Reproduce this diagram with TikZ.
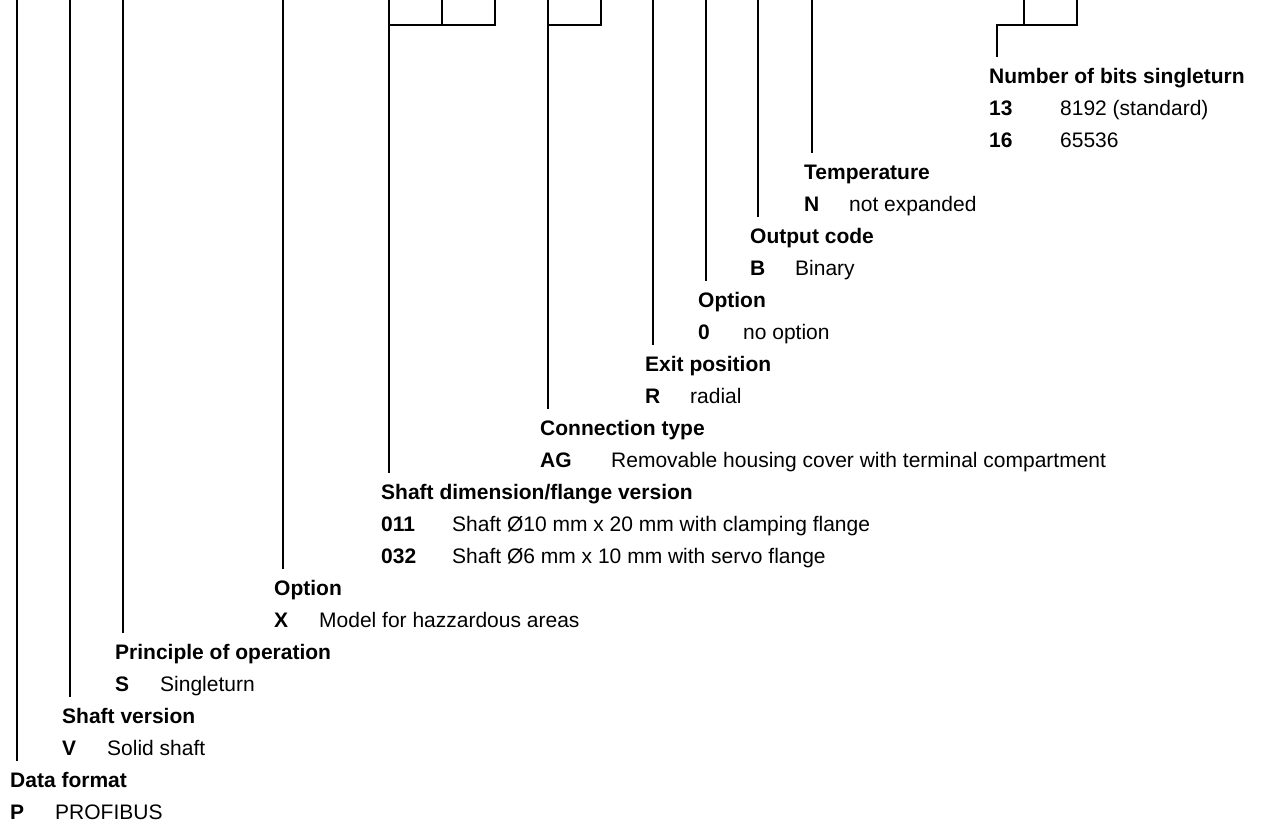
\documentclass[tikz,border=0pt]{standalone}
\usepackage{fontspec}
\setmainfont{Liberation Sans}
\begin{document}
\begin{tikzpicture}[x=1pt,y=-1pt,
  lbl/.style={anchor=base west,inner sep=0pt,text height=15pt,text depth=4pt,font={\fontsize{21}{25}\selectfont}},
  hdr/.style={lbl,font={\fontsize{21}{25}\selectfont\bfseries}},
  keyt/.style={lbl,font={\fontsize{21}{25}\selectfont\bfseries}},
  valt/.style={lbl},
  conn/.style={line width=2pt,shorten >=11pt},
  link/.style={line width=2pt}]
\useasboundingbox (0,0) rectangle (1263,822);
% headers and entries (baseline of row k = 83 + 32k)
\node[hdr] (hB) at (989,83) {Number of bits singleturn};
\node[keyt] (kB1) at (989,115) {13};
\node[valt] (vB1) at (1060,115) {8192 (standard)};
\node[keyt] (kB2) at (989,147) {16};
\node[valt] (vB2) at (1060,147) {65536};
\node[hdr] (hT) at (804,179) {Temperature};
\node[keyt] (kT) at (804,211) {N};
\node[valt] (vT) at (849,211) {not expanded};
\node[hdr] (hO) at (750,243) {Output code};
\node[keyt] (kO) at (750,275) {B};
\node[valt] (vO) at (795,275) {Binary};
\node[hdr] (hP) at (698,307) {Option};
\node[keyt] (kP) at (698,339) {0};
\node[valt] (vP) at (743,339) {no option};
\node[hdr] (hE) at (645,371) {Exit position};
\node[keyt] (kE) at (645,403) {R};
\node[valt] (vE) at (690,403) {radial};
\node[hdr] (hC) at (540,435) {Connection type};
\node[keyt] (kC) at (540,467) {AG};
\node[valt] (vC) at (611,467) {Removable housing cover with terminal compartment};
\node[hdr] (hS) at (381,499) {Shaft dimension/flange version};
\node[keyt] (kS1) at (381,531) {011};
\node[valt] (vS1) at (452,531) {Shaft Ø10 mm x 20 mm with clamping flange};
\node[keyt] (kS2) at (381,563) {032};
\node[valt] (vS2) at (452,563) {Shaft Ø6 mm x 10 mm with servo flange};
\node[hdr] (hX) at (274,595) {Option};
\node[keyt] (kX) at (274,627) {X};
\node[valt] (vX) at (319,627) {Model for hazzardous areas};
\node[hdr] (hR) at (115,659) {Principle of operation};
\node[keyt] (kR) at (115,691) {S};
\node[valt] (vR) at (160,691) {Singleturn};
\node[hdr] (hV) at (62,723) {Shaft version};
\node[keyt] (kV) at (62,755) {V};
\node[valt] (vV) at (107,755) {Solid shaft};
\node[hdr] (hD) at (10,787) {Data format};
\node[keyt] (kD) at (10,819) {P};
\node[valt] (vD) at (55,819) {PROFIBUS};
% top coordinates
\coordinate (tD) at (17,0);
\coordinate (tV) at (70,0);
\coordinate (tR) at (123,0);
\coordinate (tX) at (283,0);
\coordinate (tS1) at (389,0);
\coordinate (tS2) at (442,0);
\coordinate (tS3) at (495,0);
\coordinate (jS) at (389,25);
\coordinate (tC1) at (548,0);
\coordinate (tC2) at (601,0);
\coordinate (jC) at (548,25);
\coordinate (tE) at (653,0);
\coordinate (tP) at (706,0);
\coordinate (tO) at (758,0);
\coordinate (tT) at (812,0);
\coordinate (tB1) at (1024,0);
\coordinate (tB2) at (1077,0);
\coordinate (jB) at (997,25);
% connectors
\draw[conn] (tD) -- (tD |- hD.north);
\draw[conn] (tV) -- (tV |- hV.north);
\draw[conn] (tR) -- (tR |- hR.north);
\draw[conn] (tX) -- (tX |- hX.north);
\draw[conn] (tS3) |- (jS) -- (jS |- hS.north);
\draw[link] (tS1) -- (jS);
\draw[link] (tS2) -- (tS2 |- jS);
\draw[conn] (tC2) |- (jC) -- (jC |- hC.north);
\draw[link] (tC1) -- (jC);
\draw[conn] (tE) -- (tE |- hE.north);
\draw[conn] (tP) -- (tP |- hP.north);
\draw[conn] (tO) -- (tO |- hO.north);
\draw[conn] (tT) -- (tT |- hT.north);
\draw[conn] (tB2) |- (jB) -- (jB |- hB.north);
\draw[link] (tB1) -- (tB1 |- jB);
\end{tikzpicture}
\end{document}
